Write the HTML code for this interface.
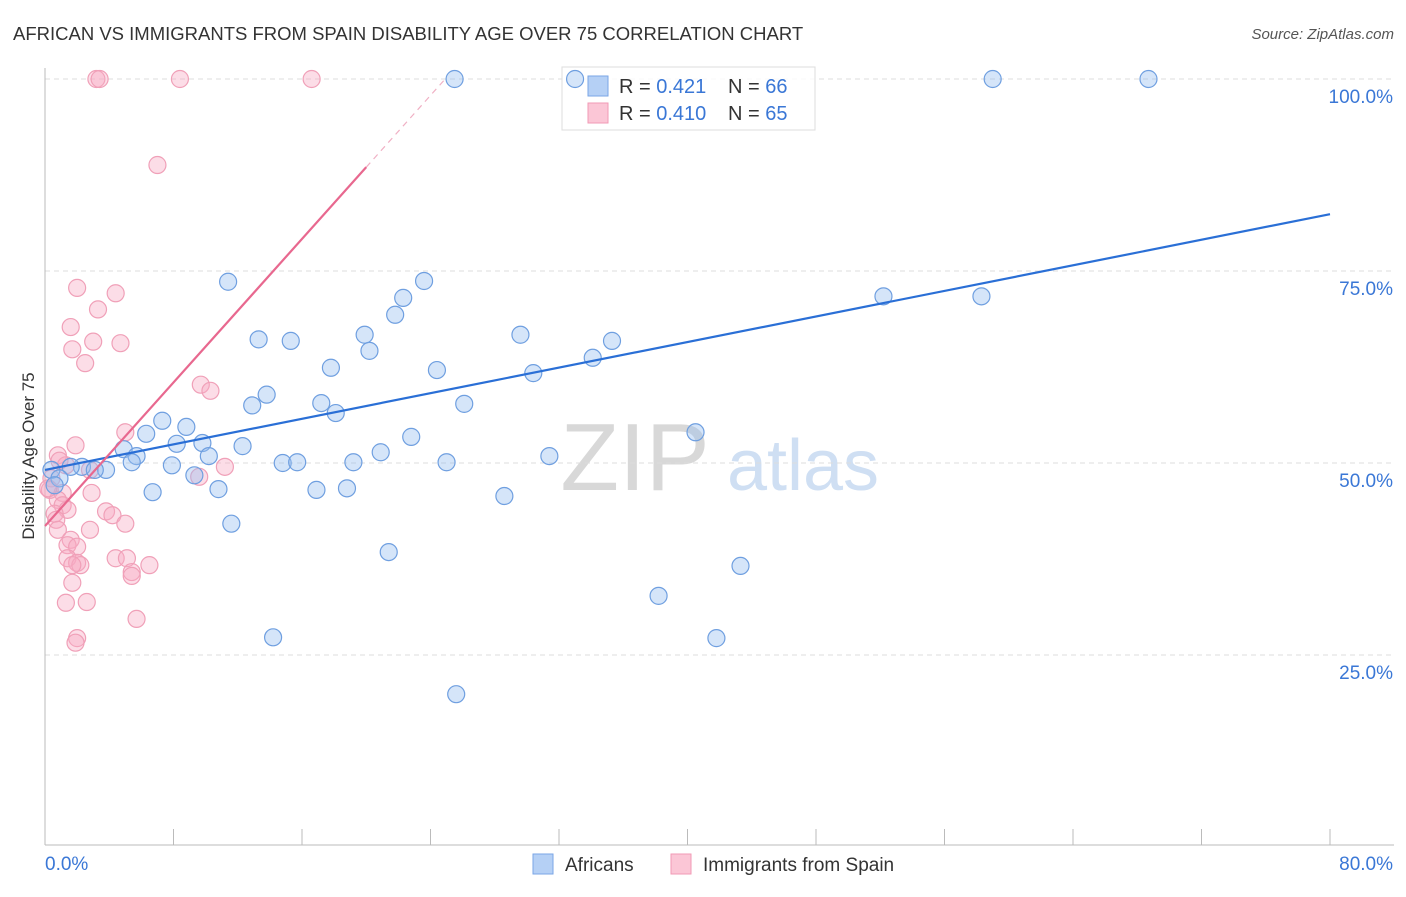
<!DOCTYPE html>
<html><head><meta charset="utf-8"><style>
body{margin:0;background:#fff;font-family:"Liberation Sans",sans-serif;}
svg text{font-family:"Liberation Sans",sans-serif;}
</style></head><body>
<svg id="chart" width="1406" height="892">
<text x="13" y="40" font-size="18.5" fill="#333">AFRICAN VS IMMIGRANTS FROM SPAIN DISABILITY AGE OVER 75 CORRELATION CHART</text>
<text x="1394" y="39" font-size="15" fill="#555" font-style="italic" text-anchor="end">Source: ZipAtlas.com</text>
<g>
<text x="635" y="490" font-size="96" fill="#d8d8d8" font-family="Liberation Serif,serif" text-anchor="middle">ZIP</text>
<text x="803" y="490" font-size="72" fill="#cfdff3" text-anchor="middle">atlas</text>
</g>
<g id="grid"></g><g id="axes"></g>
<g>
<rect x="562" y="67" width="253" height="63" fill="rgba(255,255,255,0.85)" stroke="#ddd"/>
<rect x="588" y="76" width="20" height="20" fill="#b5d0f5" stroke="#7aa6e6"/>
<rect x="588" y="103" width="20" height="20" fill="#fbc6d6" stroke="#f29ab5"/>
<text x="619" y="93" font-size="20" fill="#333">R = <tspan fill="#3a77d6">0.421</tspan></text>
<text x="728" y="93" font-size="20" fill="#333">N = <tspan fill="#3a77d6">66</tspan></text>
<text x="619" y="120" font-size="20" fill="#333">R = <tspan fill="#3a77d6">0.410</tspan></text>
<text x="728" y="120" font-size="20" fill="#333">N = <tspan fill="#3a77d6">65</tspan></text>
</g>
<g id="marks"></g>
<text x="34" y="456" font-size="17" fill="#333" text-anchor="middle" transform="rotate(-90 34 456)">Disability Age Over 75</text>
<g>
<rect x="533" y="854" width="20" height="20" fill="#b5d0f5" stroke="#7aa6e6"/>
<text x="565" y="871" font-size="19" fill="#333">Africans</text>
<rect x="671" y="854" width="20" height="20" fill="#fbc6d6" stroke="#f29ab5"/>
<text x="703" y="871" font-size="19" fill="#333">Immigrants from Spain</text>
</g>
</svg>
<script>
const yTicks=[25,50,75,100];
const yTickLabels=["25.0%","50.0%","75.0%","100.0%"];
const xTicks=[0,8,16,24,32,40,48,56,64,72,80];
const xMinLabel="0.0%", xMaxLabel="80.0%";
const blueX=[25.5,33.0,59.0,68.7,11.4,23.6,22.3,21.8,52.2,58.3,13.3,15.3,19.9,29.6,35.3,20.2,34.1,17.8,24.4,30.4,13.8,12.9,17.2,18.1,26.1,7.3,8.8,6.3,22.8,40.5,8.2,9.8,12.3,4.9,20.9,5.7,10.2,31.4,5.4,7.9,14.8,15.7,19.2,25.0,2.3,3.8,1.6,0.4,0.9,9.3,6.7,10.8,16.9,18.8,28.6,11.6,21.4,43.3,38.2,14.2,41.8,25.6,0.6,3.1];
const blueY=[100,100,100,100,73.6,73.7,71.5,69.3,71.7,71.7,66.1,65.9,66.7,66.7,65.9,64.6,63.7,62.4,62.1,61.7,58.9,57.5,57.8,56.5,57.7,55.5,54.7,53.8,53.4,54.0,52.5,52.6,52.2,51.8,51.4,50.9,50.9,50.9,50.1,49.7,50.0,50.1,50.1,50.1,49.5,49.1,49.5,49.1,48.0,48.4,46.2,46.6,46.5,46.7,45.7,42.1,38.4,36.6,32.7,27.3,27.2,19.9,47.1,49.1];
const pinkX=[3.2,3.4,8.4,16.6,7.0,2.0,4.4,3.3,1.6,3.0,4.7,1.7,2.5,9.7,10.3,5.0,1.9,0.8,1.3,11.2,9.6,2.8,0.4,0.3,1.1,2.9,0.8,1.1,1.4,0.6,3.8,4.2,0.7,0.8,2.8,5.0,1.6,1.4,2.0,4.4,5.1,1.4,2.0,2.2,1.7,6.5,5.4,5.4,1.7,1.3,2.6,5.7,2.0,1.9,0.9,0.2];
const pinkY=[100,100,100,100,88.8,72.8,72.1,70.0,67.7,65.8,65.6,64.8,63.0,60.2,59.4,54.0,52.3,51.0,49.7,49.5,48.2,49.1,48.0,46.5,46.1,46.1,45.2,44.5,43.9,43.4,43.7,43.2,42.6,41.3,41.3,42.1,40.0,39.3,39.1,37.6,37.6,37.6,37.0,36.7,36.7,36.7,35.8,35.3,34.4,31.8,31.9,29.7,27.2,26.6,50.3,46.7];
const blueFit=[49.1,82.4];
const pinkFit=[41.8,2.336,20.0,24.9];

const NS="http://www.w3.org/2000/svg";
const X=v=>45+v/80*1285, Y=v=>847-v/100*768;
function mk(tag,attrs,parent){const e=document.createElementNS(NS,tag);for(const k in attrs)e.setAttribute(k,attrs[k]);parent.appendChild(e);return e;}
const grid=document.getElementById('grid'),axes=document.getElementById('axes'),marks=document.getElementById('marks');
yTicks.forEach((t,i)=>{
  const l=mk('line',{x1:45,x2:1394,y1:Y(t),y2:Y(t),stroke:'#ddd','stroke-dasharray':'5,4'},grid);
  
  
  const tx=mk('text',{x:1393,y:Y(t)+24,'font-size':19,fill:'#3a77d6','text-anchor':'end'},axes);
  tx.textContent=yTickLabels[i];
  
  
});
const la=mk('line',{x1:45,x2:45,y1:68,y2:845,stroke:'#bbb'},axes);


const lb=mk('line',{x1:45,x2:1394,y1:845,y2:845,stroke:'#bbb'},axes);


xTicks.forEach(t=>{
  const l=mk('line',{x1:X(t),x2:X(t),y1:829,y2:845,stroke:'#bbb'},axes);
  
  
});
const x0=mk('text',{x:45,y:870,'font-size':19,fill:'#3a77d6'},axes);x0.textContent=xMinLabel;


const x1=mk('text',{x:1393,y:870,'font-size':19,fill:'#3a77d6','text-anchor':'end'},axes);x1.textContent=xMaxLabel;


pinkX.forEach((v,i)=>{
  const c=mk('circle',{cx:X(v),cy:Y(pinkY[i]),r:8.5,fill:'rgba(248,170,195,0.4)',stroke:'#f0a0b8','stroke-width':1.2},marks);
  
  
});
blueX.forEach((v,i)=>{
  const c=mk('circle',{cx:X(v),cy:Y(blueY[i]),r:8.5,fill:'rgba(150,190,240,0.4)',stroke:'#6f9fe0','stroke-width':1.2},marks);
  
  
});
const bl=mk('line',{x1:X(0),y1:Y(blueFit[0]),x2:X(80),y2:Y(blueFit[1]),stroke:'#2a6fd6','stroke-width':2.2},marks);


const pf=x=>pinkFit[0]+pinkFit[1]*x;
const pl=mk('line',{x1:X(0),y1:Y(pf(0)),x2:X(pinkFit[2]),y2:Y(pf(pinkFit[2])),stroke:'#e8688f','stroke-width':2.2},marks);


const pd=mk('line',{x1:X(pinkFit[2]),y1:Y(pf(pinkFit[2])),x2:X(pinkFit[3]),y2:Y(pf(pinkFit[3])),stroke:'#f0b0c4','stroke-width':1.2,'stroke-dasharray':'6,5'},marks);


</script>
</body></html>
